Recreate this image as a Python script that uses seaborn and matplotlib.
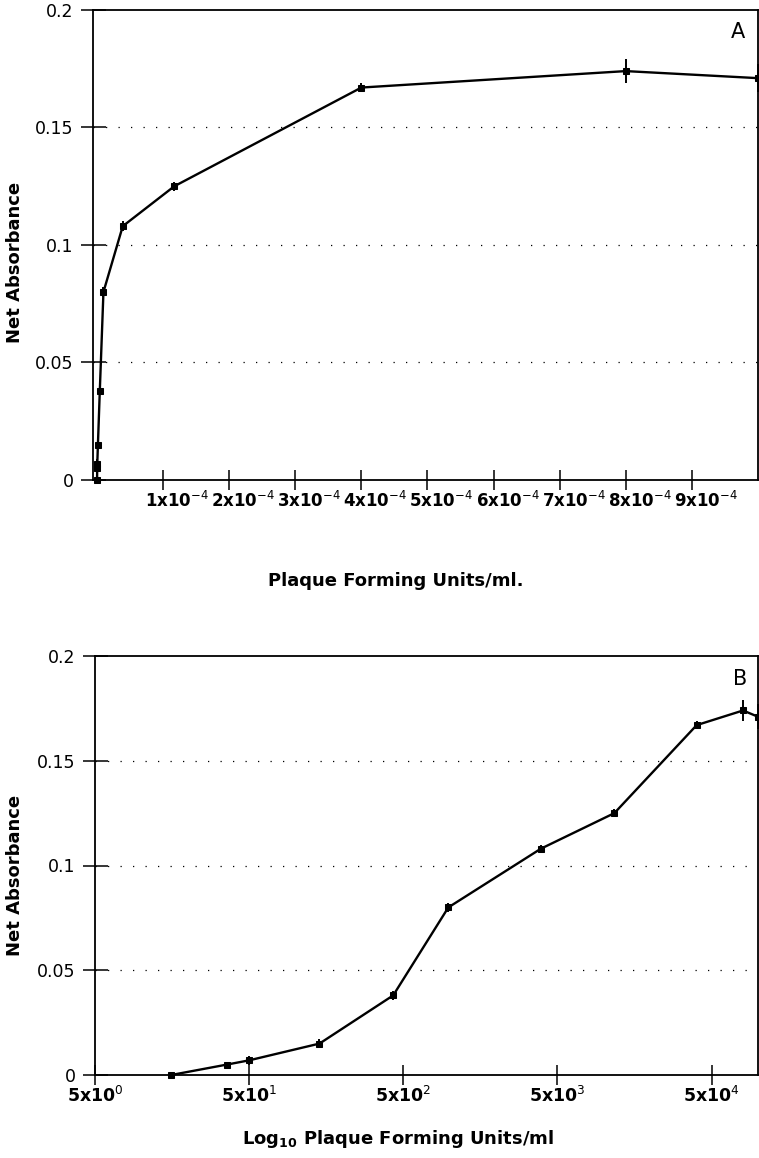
import numpy as np
import pandas as pd
import matplotlib
matplotlib.use("Agg")
import matplotlib.pyplot as plt
import matplotlib.transforms as mtransforms
import seaborn as sns

# ---- data ----
pfu = [15.6, 36, 50, 143, 430, 980, 3900, 11700, 40000, 80000, 100000]
absorbance = [0.0, 0.005, 0.007, 0.015, 0.038, 0.080, 0.108, 0.125, 0.167, 0.174, 0.171]
abs_err = [0.001, 0.001, 0.002, 0.002, 0.002, 0.002, 0.002, 0.002, 0.002, 0.005, 0.006]

a_ticks = [1, 2, 3, 4, 5, 6, 7, 8, 9]
a_ticklabels = [f"{i}x10$^{{-4}}$" for i in a_ticks]
b_ticks = [5, 50, 500, 5000, 50000]
b_ticklabels = ["5x10$^{0}$", "5x10$^{1}$", "5x10$^{2}$", "5x10$^{3}$", "5x10$^{4}$"]
y_ticks = [0, 0.05, 0.1, 0.15, 0.2]
y_ticklabels = ["0", "0.05", "0.1", "0.15", "0.2"]

df = pd.DataFrame({"pfu": pfu, "abs": absorbance, "err": abs_err})
df["pfu_e4"] = df["pfu"] / 1e4

sns.set_theme(style="white")
plt.rcParams["font.family"] = ["DejaVu Sans"]
plt.rcParams["mathtext.fontset"] = "dejavusans"
plt.rcParams.update({"text.color": "black", "axes.labelcolor": "black",
                     "xtick.color": "black", "ytick.color": "black"})

fig = plt.figure(figsize=(7.59, 11.58), dpi=100)
axA = fig.add_axes([93 / 759, 1 - 480 / 1158, 665 / 759, 470 / 1158])
axB = fig.add_axes([95 / 759, 1 - 1075 / 1158, 663 / 759, 419 / 1158])


def style_axis(ax):
    for s in ax.spines.values():
        s.set_color("black")
        s.set_linewidth(1.3)
    ax.set_ylim(0, 0.2)
    ax.set_yticks(y_ticks)
    ax.set_yticklabels(y_ticklabels, fontsize=12.5)
    ax.tick_params(axis="y", direction="inout", length=18, width=1.1, color="black",
                   labelcolor="black", pad=5, left=True)
    ax.tick_params(axis="x", direction="inout", length=14, width=1.1, color="black",
                   labelcolor="black", bottom=True)
    for yv in [0.05, 0.1, 0.15]:
        ax.axhline(yv, color="black", lw=0.9, ls=(0, (1, 9)), zorder=0)
    ax.grid(False)


# ---- Panel A ----
sns.lineplot(data=df, x="pfu_e4", y="abs", ax=axA, color="black", lw=1.7,
             marker="s", markersize=5, markeredgecolor="black", errorbar=None, clip_on=False)
axA.errorbar(df["pfu_e4"], df["abs"], yerr=df["err"], fmt="none", ecolor="black",
             elinewidth=1.4, capsize=0, clip_on=False)
axA.set_xlim(-0.06, 10.0)
style_axis(axA)
axA.set_xticks(a_ticks)
axA.set_xticklabels(a_ticklabels, fontsize=12, fontweight="bold")
axA.tick_params(axis="x", pad=1)
offA = mtransforms.ScaledTranslation(14 / 100, 0, fig.dpi_scale_trans)
for lab in axA.get_xticklabels():
    lab.set_transform(lab.get_transform() + offA)
axA.set_xlabel("Plaque Forming Units/ml.", fontsize=13, fontweight="bold", labelpad=0)
axA.xaxis.set_label_coords((396 - 93) / 665, (480 - 572) / 470)
axA.set_ylabel("Net Absorbance", fontsize=13, fontweight="bold")
axA.yaxis.set_label_coords((24 - 93) / 665, (480 - 262) / 470)
axA.text((738 - 93) / 665, (480 - 32) / 470, "A", transform=axA.transAxes,
         fontsize=15, ha="center", va="center")

# ---- Panel B ----
sns.lineplot(data=df, x="pfu", y="abs", ax=axB, color="black", lw=1.7,
             marker="s", markersize=5, markeredgecolor="black", errorbar=None, clip_on=False)
axB.errorbar(df["pfu"], df["abs"], yerr=df["err"], fmt="none", ecolor="black",
             elinewidth=1.4, capsize=0, clip_on=False)
axB.set_xscale("log")
axB.set_xlim(5, 1e5)
style_axis(axB)
axB.set_xticks(b_ticks)
axB.set_xticklabels(b_ticklabels, fontsize=12.5, fontweight="bold")
axB.xaxis.set_minor_locator(matplotlib.ticker.NullLocator())
axB.tick_params(axis="x", pad=1)
axB.set_xlabel(r"Log$_{\mathbf{10}}$ Plaque Forming Units/ml", fontsize=13, fontweight="bold")
axB.xaxis.set_label_coords((398 - 95) / 663, (1075 - 1128) / 419)
axB.set_ylabel("Net Absorbance", fontsize=13, fontweight="bold")
axB.yaxis.set_label_coords((24 - 95) / 663, (1075 - 875) / 419)
axB.text((740 - 95) / 663, (1075 - 679) / 419, "B", transform=axB.transAxes,
         fontsize=15, ha="center", va="center")

fig.savefig("out.png", dpi=100)
